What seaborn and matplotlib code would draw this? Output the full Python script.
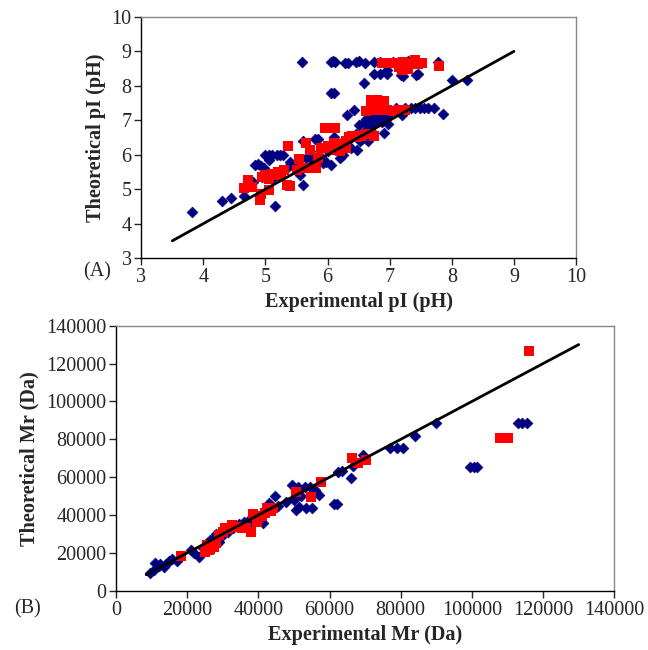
import numpy as np
import pandas as pd
import matplotlib
matplotlib.use('Agg')
import matplotlib.pyplot as plt
import seaborn as sns

# ---- panel A: isoelectric point ----
pi_exp_blue = [3.81, 4.30, 4.44, 4.66, 4.80, 4.83, 4.88, 4.93, 4.97, 5.00,
               5.00, 5.05, 5.10, 5.18, 5.23, 5.28, 5.05, 5.10, 5.16, 5.20,
               5.25, 5.35, 5.45, 5.50, 5.61, 5.59, 5.65, 5.72, 5.75, 5.80,
               5.85, 5.88, 5.93, 5.98, 6.00, 6.05, 6.10, 6.05, 6.10, 6.05,
               6.08, 6.12, 6.20, 6.25, 6.28, 6.33, 6.32, 6.30, 6.35, 6.40,
               6.43, 6.45, 6.50, 6.48, 6.50, 6.55, 6.58, 6.60, 6.59, 6.62,
               6.65, 6.68, 6.70, 6.72, 6.73, 6.75, 6.75, 6.78, 6.80, 6.82,
               6.85, 6.85, 6.88, 6.90, 6.92, 6.95, 6.95, 6.98, 7.00, 7.05,
               7.10, 7.18, 7.20, 7.22, 7.20, 7.25, 7.30, 7.35, 7.42, 7.45,
               7.40, 7.48, 7.55, 7.62, 7.72, 7.78, 7.85, 8.00, 8.24, 6.63,
               6.05, 5.55, 5.40, 4.95, 5.60, 6.15, 6.22, 6.38, 6.46, 6.52,
               6.60, 6.70, 6.76, 6.88, 6.92, 6.97, 6.65]
pi_theo_blue = [4.33, 4.65, 4.73, 4.79, 5.20, 5.70, 5.72, 5.68, 5.62, 5.55,
                6.00, 6.00, 6.00, 6.00, 6.00, 5.98, 5.85, 5.30, 4.50, 5.40,
                5.50, 5.60, 5.68, 5.60, 5.12, 8.70, 5.90, 6.10, 5.85, 6.45,
                6.45, 5.95, 5.75, 5.80, 6.10, 6.30, 6.50, 7.78, 7.78, 8.70,
                8.72, 8.70, 5.90, 6.00, 8.65, 8.65, 7.15, 6.40, 6.55, 6.50,
                7.30, 8.68, 8.72, 6.14, 6.85, 6.45, 6.95, 8.65, 8.09, 7.05,
                6.40, 7.10, 6.85, 7.25, 6.62, 8.70, 8.35, 7.40, 7.00, 7.15,
                8.35, 8.70, 6.95, 6.62, 7.20, 8.45, 8.35, 7.10, 7.30, 8.70,
                7.35, 8.30, 8.70, 8.28, 7.15, 7.37, 8.72, 7.37, 8.30, 8.35,
                7.37, 7.37, 7.37, 7.37, 7.37, 8.70, 7.18, 8.18, 8.18, 6.55,
                5.70, 5.40, 5.80, 5.35, 6.40, 6.25, 6.35, 6.20, 6.60, 6.40,
                6.70, 7.50, 7.60, 7.45, 7.00, 6.90, 6.90]

pi_exp_red = [4.65, 4.72, 4.78, 4.91, 4.93, 5.06, 4.95, 5.00, 5.05, 5.10,
              5.15, 5.20, 5.25, 5.30, 5.34, 5.37, 5.40, 5.50, 5.54, 5.58,
              5.65, 5.70, 5.72, 5.78, 5.82, 5.85, 5.90, 5.95, 6.00, 6.05,
              6.12, 6.10, 6.18, 6.25, 6.30, 6.35, 6.40, 6.48, 6.55, 6.62,
              6.70, 6.75, 6.62, 6.70, 6.78, 6.85, 6.95, 7.05, 7.15, 7.25,
              6.70, 6.80, 6.90, 6.88, 6.95, 7.05, 7.15, 7.20, 7.25, 7.30,
              7.35, 7.40, 7.45, 7.52, 7.22, 7.79, 6.30, 6.20]
pi_theo_red = [5.03, 5.27, 5.05, 4.69, 4.85, 4.98, 5.35, 5.40, 5.30, 5.45,
               5.40, 5.50, 5.45, 5.55, 5.13, 6.24, 5.10, 5.55, 5.87, 5.60,
               6.35, 5.60, 6.15, 5.60, 5.60, 5.90, 6.20, 6.77, 6.25, 6.15,
               6.77, 6.35, 6.25, 6.30, 6.40, 6.50, 6.55, 6.50, 6.55, 6.60,
               6.60, 6.55, 7.28, 7.30, 7.30, 7.30, 7.30, 7.28, 7.30, 7.30,
               7.58, 7.58, 7.55, 8.65, 8.65, 8.65, 8.55, 8.45, 8.60, 8.50,
               8.65, 8.75, 8.62, 8.65, 8.68, 8.58, 6.20, 6.10]

# ---- panel B: molecular mass ----
mr_exp_blue = [9500, 10600, 11000, 12000, 12500, 13500, 14000, 15000, 15800, 17000,
               21000, 22000, 23400, 24500, 25500, 26500, 27500, 28000, 29000, 30000,
               31500, 33000, 34500, 36000, 37000, 38500, 40000, 41300, 42000, 43000,
               44000, 44800, 45500, 47700, 49400, 50000, 50500, 51000, 51500, 52000,
               53000, 53500, 54500, 55200, 56000, 57000, 61300, 62000, 62500, 63500,
               66000, 66500, 69500, 77000, 79000, 80500, 84000, 90000, 99500, 100500,
               101500, 113000, 114000, 115500]
mr_theo_blue = [9300, 11000, 14600, 13000, 14000, 12500, 14000, 15500, 17000, 16000,
                21600, 20000, 18000, 22500, 25000, 27000, 28000, 30000, 26000, 29500,
                31000, 33000, 35500, 36500, 37000, 36000, 39000, 35700, 42000, 46500,
                44000, 50000, 45000, 47000, 56000, 48000, 42500, 55000, 44500, 50000,
                55000, 43600, 55000, 43600, 53000, 50600, 46000, 46000, 63000, 63500,
                59800, 66000, 71500, 75500, 75500, 75500, 82000, 88500, 65500, 65500,
                65500, 88500, 88500, 88500]

mr_exp_red = [18400, 25000, 25500, 26000, 26500, 27500, 28000, 29000, 30000, 30500,
              31500, 32500, 34000, 35500, 36500, 37900, 38500, 39500, 40000, 41000,
              42000, 42500, 43500, 44000, 50600, 54700, 57500, 66200, 68000, 70300,
              108000, 109000, 110000, 116000]
mr_theo_red = [18600, 20500, 24000, 21500, 22000, 23000, 25000, 29500, 31000, 33000,
               32500, 35000, 33500, 33000, 33000, 31000, 40500, 36500, 38500, 39500,
               41000, 44000, 42000, 43500, 52000, 49800, 57700, 70000, 67400, 69000,
               80500, 80500, 80500, 126800]

pi_line = [3.5, 9]
mr_line = [8500, 130000]

sns.set_style('white')
plt.rcParams['font.family'] = ['Liberation Serif', 'DejaVu Serif']

fig = plt.figure(figsize=(6.48, 6.5), dpi=100)
ax1 = fig.add_axes([0.218, 0.603, 0.671, 0.371])
ax2 = fig.add_axes([0.179, 0.091, 0.769, 0.408])

blue = '#000080'
red = '#ff0000'


def draw(ax, xb, yb, xr, yr, line):
    sns.scatterplot(x=xb, y=yb, ax=ax, marker='D', s=30, color=blue,
                    edgecolor=blue, linewidth=0.5, zorder=3)
    sns.scatterplot(x=xr, y=yr, ax=ax, marker='s', s=62, color=red,
                    edgecolor=red, linewidth=0, zorder=4)
    sns.lineplot(x=line, y=line, ax=ax, color='black', linewidth=2, zorder=5)
    for side in ['left', 'bottom']:
        ax.spines[side].set_color('black')
        ax.spines[side].set_linewidth(1)
    for side in ['top', 'right']:
        ax.spines[side].set_color('#888888')
        ax.spines[side].set_linewidth(1)
    ax.tick_params(direction='out', length=5, width=1, labelsize=14.5,
                   bottom=True, left=True, pad=2)


draw(ax1, pi_exp_blue, pi_theo_blue, pi_exp_red, pi_theo_red, pi_line)
ax1.set_xlim(3, 10)
ax1.set_ylim(3, 10)
ax1.set_xticks(range(3, 11))
ax1.set_yticks(range(3, 11))
ax1.set_xlabel('Experimental pI (pH)', fontsize=14.6, fontweight='bold', labelpad=4)
ax1.set_ylabel('Theoretical pI (pH)', fontsize=14.6, fontweight='bold', labelpad=4)

draw(ax2, mr_exp_blue, mr_theo_blue, mr_exp_red, mr_theo_red, mr_line)
ax2.set_xlim(0, 140000)
ax2.set_ylim(0, 140000)
ax2.set_xticks(range(0, 140001, 20000))
ax2.set_yticks(range(0, 140001, 20000))
ax2.set_xticklabels([str(v) for v in range(0, 140001, 20000)])
ax2.set_yticklabels([str(v) for v in range(0, 140001, 20000)])
ax2.set_xlabel('Experimental Mr (Da)', fontsize=14.6, fontweight='bold', labelpad=4)
ax2.set_ylabel('Theoretical Mr (Da)', fontsize=14.6, fontweight='bold', labelpad=5)

fig.text(0.150, 0.582, '(A)', fontsize=14.5, ha='center', va='center')
fig.text(0.042, 0.064, '(B)', fontsize=14.5, ha='center', va='center')

fig.savefig('out.png', dpi=100)
